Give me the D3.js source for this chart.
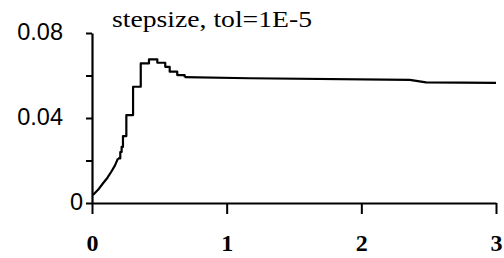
<html lang="en">
  <head>
    <meta charset="UTF-8" />
    <title>stepsize</title>
    <script src="https://d3js.org/d3.v7.min.js"></script>
  </head>
  <body>
    <style>
      body {
        background-color: #ffffff;
        margin: 0;
        padding: 0;
      }
      svg {
        display: block;
      }
    </style>
    <script>
      const w = 504;
      const h = 258;
      const title = "stepsize, tol=1E-5";

      // smooth start of the curve (time, step size)
      const smoothT = [0.007, 0.045, 0.082, 0.115, 0.143, 0.17, 0.193];
      const smoothV = [0.0038, 0.0062, 0.0093, 0.0119, 0.0147, 0.0176, 0.021];
      // staircase part, value holds until the next time
      const stepT = [0.193, 0.21, 0.22, 0.23, 0.255, 0.305, 0.362, 0.423, 0.485, 0.544, 0.577, 0.633, 0.688];
      const stepV = [0.021, 0.024, 0.0264, 0.0315, 0.0414, 0.0547, 0.0657, 0.0676, 0.066, 0.0641, 0.0618, 0.0602, 0.0592];
      // long flat tail
      const tailT = [0.688, 1.17, 2.36, 2.48, 3];
      const tailV = [0.0592, 0.0587, 0.0579, 0.0568, 0.0565];

      const xTicks = [0, 1, 2, 3];
      const yTicks = [0, 0.02, 0.04, 0.06, 0.08];
      const yLabels = { 0: "0", 0.04: "0.04", 0.08: "0.08" };

      const xScale = d3.scaleLinear().domain([0, 3]).range([92, 496]);
      const yScale = d3.scaleLinear().domain([0, 0.08]).range([203, 33]);

      const svg = d3
        .select("body")
        .append("svg")
        .attr("width", w)
        .attr("height", h);

      // y axis
      const yAxis = d3
        .axisLeft(yScale)
        .tickValues(yTicks)
        .tickSizeInner(6)
        .tickSizeOuter(0)
        .tickFormat((d) => "");
      const yg = svg.append("g").attr("transform", "translate(92,0)").call(yAxis);
      yg.select(".domain").attr("stroke", "#000").attr("stroke-width", 2.2);
      yg.selectAll(".tick line").attr("stroke", "#000").attr("stroke-width", 2);

      svg
        .append("g")
        .selectAll("text")
        .data(Object.keys(yLabels).map(Number))
        .join("text")
        .attr("x", (d) => (d === 0 ? 83 : 63))
        .attr("y", (d) => yScale(d) - 1.5)
        .attr("dy", "0.36em")
        .attr("text-anchor", "end")
        .style("font-family", "'Liberation Sans', Arial, sans-serif")
        .style("font-size", "23.5px")
        .text((d) => yLabels[d]);

      // x axis
      const xAxis = d3
        .axisBottom(xScale)
        .tickValues(xTicks)
        .tickSizeInner(11)
        .tickSizeOuter(0)
        .tickPadding(20)
        .tickFormat(d3.format("d"));
      const xg = svg.append("g").attr("transform", "translate(0,203)").call(xAxis);
      xg.select(".domain").attr("stroke", "#000").attr("stroke-width", 2.2);
      xg.selectAll(".tick line").attr("stroke", "#000").attr("stroke-width", 2);
      xg.selectAll(".tick text")
        .attr("fill", "#000")
        .style("font-family", "'Liberation Serif', 'Times New Roman', serif")
        .style("font-weight", "bold")
        .style("font-size", "24px");

      // curve
      const toPts = (ts, vs) => ts.map((t, i) => [t, vs[i]]);
      const line = d3
        .line()
        .x((d) => xScale(d[0]))
        .y((d) => yScale(d[1]));
      const stepLine = d3
        .line()
        .curve(d3.curveStepAfter)
        .x((d) => xScale(d[0]))
        .y((d) => yScale(d[1]));

      const curve = svg
        .append("g")
        .attr("fill", "none")
        .attr("stroke", "#000")
        .attr("stroke-width", 2.2)
        .attr("stroke-linejoin", "round");
      curve.append("path").attr("d", line(toPts(smoothT, smoothV)));
      curve.append("path").attr("d", stepLine(toPts(stepT, stepV)));
      curve.append("path").attr("d", line(toPts(tailT, tailV)));

      // title
      svg
        .append("text")
        .attr("x", 112)
        .attr("y", 27)
        .attr("textLength", 200)
        .attr("lengthAdjust", "spacingAndGlyphs")
        .style("font-family", "'Liberation Serif', 'Times New Roman', serif")
        .style("font-size", "24px")
        .text(title);
    </script>
  </body>
</html>
